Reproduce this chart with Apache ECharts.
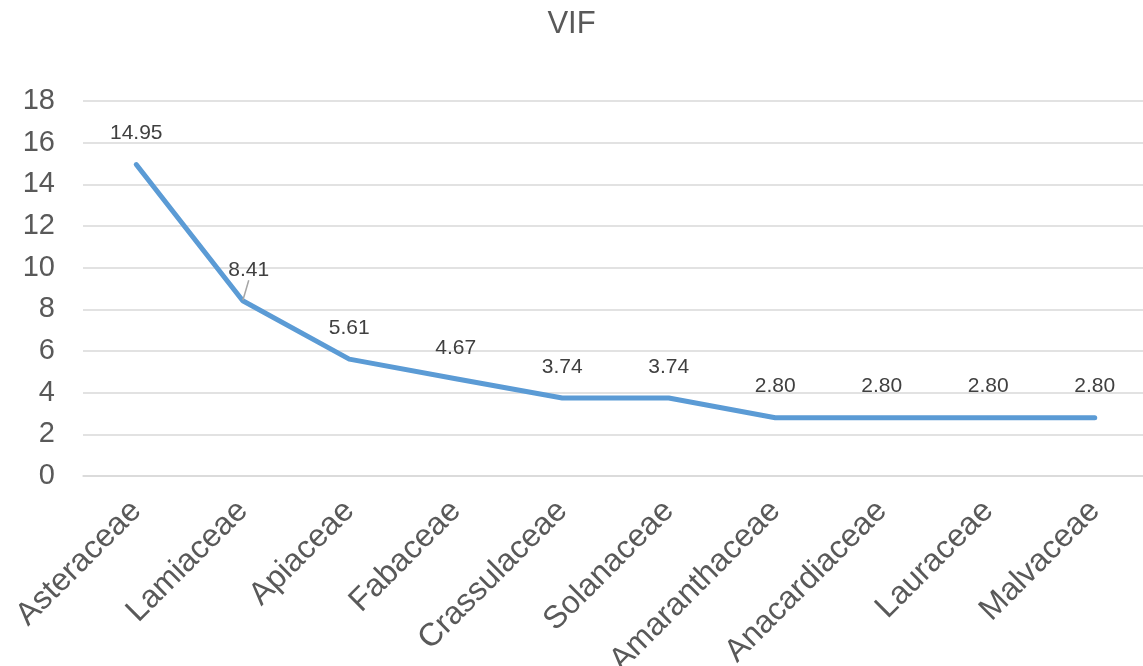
<!DOCTYPE html>
<html>
<head>
<meta charset="utf-8">
<title>VIF</title>
<script src="https://cdn.jsdelivr.net/npm/echarts@6/dist/echarts.min.js"></script>
<style>
  html, body { margin: 0; padding: 0; background: #ffffff; }
  #chart { width: 1143px; height: 666px; }
</style>
</head>
<body>
<div id="chart"></div>
<script>
// Plant families and their VIF values
const families = ['Asteraceae', 'Lamiaceae', 'Apiaceae', 'Fabaceae', 'Crassulaceae',
  'Solanaceae', 'Amaranthaceae', 'Anacardiaceae', 'Lauraceae', 'Malvaceae'];
const vifValues = [14.95, 8.41, 5.61, 4.67, 3.74, 3.74, 2.80, 2.80, 2.80, 2.80];
const yTicks = { min: 0, max: 18, interval: 2 };

// the Lamiaceae label sits slightly to the right with a short leader line
const leaderIndex = 1;

const textColor = '#595959';
const fontFamily = 'Liberation Sans, Arial, sans-serif';

const seriesData = vifValues.map((v, i) => (
  i === leaderIndex
    ? { value: v, labelLine: { show: true } }
    : { value: v }
));

const chart = echarts.init(document.getElementById('chart'), null, { renderer: 'canvas' });

chart.setOption({
  backgroundColor: '#ffffff',
  animation: false,
  title: {
    text: 'VIF',
    left: 'center',
    top: 4,
    textStyle: { color: textColor, fontSize: 31, fontWeight: 'normal', fontFamily: fontFamily }
  },
  grid: {
    left: 83,
    right: -5,
    top: 101,
    bottom: 190,
    containLabel: false,
    outerBoundsMode: 'none'
  },
  xAxis: {
    type: 'category',
    data: families,
    boundaryGap: true,
    axisLine: { show: true, lineStyle: { color: '#d9d9d9', width: 1.5 } },
    axisTick: { show: false },
    axisLabel: {
      rotate: 45,
      interval: 0,
      margin: 30,
      color: textColor,
      fontSize: 32,
      fontFamily: fontFamily
    }
  },
  yAxis: {
    type: 'value',
    min: yTicks.min,
    max: yTicks.max,
    interval: yTicks.interval,
    axisLine: { show: false },
    axisTick: { show: false },
    splitLine: { lineStyle: { color: '#d9d9d9', width: 1.5 } },
    axisLabel: {
      margin: 28,
      color: textColor,
      fontSize: 29,
      fontFamily: fontFamily
    }
  },
  series: [{
    type: 'line',
    data: seriesData,
    symbol: 'circle',
    symbolSize: 1,
    showSymbol: true,
    itemStyle: { color: '#5B9BD5' },
    lineStyle: { color: '#5B9BD5', width: 5, cap: 'round', join: 'round' },
    label: {
      show: true,
      position: 'top',
      distance: 20,
      color: '#404040',
      fontSize: 21,
      fontFamily: fontFamily,
      formatter: p => p.value.toFixed(2)
    },
    labelLine: {
      show: false,
      lineStyle: { color: '#a6a6a6', width: 1.5 }
    },
    labelLayout: function (params) {
      if (params.dataIndex === leaderIndex) {
        return { dx: 6 };
      }
      return {};
    }
  }]
});
</script>
</body>
</html>
